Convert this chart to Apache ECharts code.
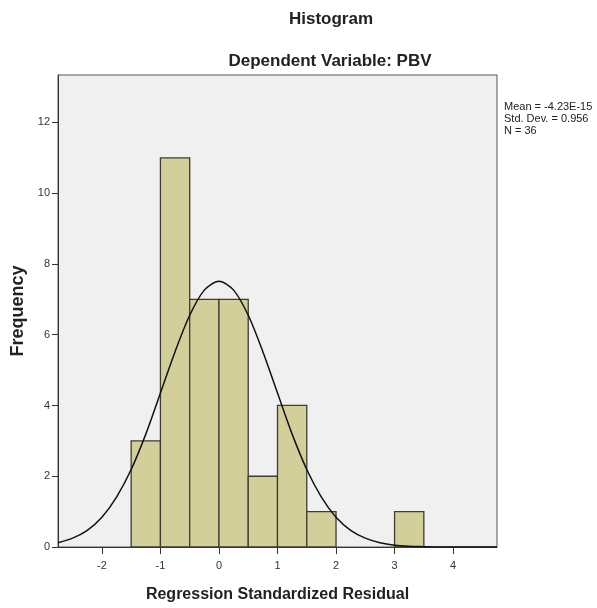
<!DOCTYPE html>
<html>
<head>
<meta charset="utf-8">
<script src="https://cdn.jsdelivr.net/npm/echarts@6/dist/echarts.min.js"></script>
<style>
  html, body { margin: 0; padding: 0; background: #fff; }
  #chart { width: 597px; height: 608px; }
</style>
</head>
<body>
<div id="chart"></div>
<script>
// histogram bins: [from, to] and counts
const binStart = [-1.5, -1.0, -0.5, 0.0, 0.5, 1.0, 1.5, 3.0]
const binEnd = [-1.0, -0.5, 0.0, 0.5, 1.0, 1.5, 2.0, 3.5]
const binCount = [3, 11, 7, 7, 2, 4, 1, 1]

// normal curve
const curveX = [-2.75, -2.5, -2.25, -2, -1.75, -1.5, -1.25, -1, -0.75, -0.5, -0.25, 0,
  0.25, 0.5, 0.75, 1, 1.25, 1.5, 1.75, 2, 2.25, 2.5, 2.75, 3, 3.25, 3.5, 3.75, 4, 4.25, 4.5, 4.75]
const curveY = [0.12, 0.25, 0.47, 0.84, 1.41, 2.19, 3.19, 4.35, 5.52, 6.55, 7.26, 7.51,
  7.26, 6.55, 5.52, 4.35, 3.19, 2.19, 1.41, 0.84, 0.47, 0.25, 0.12, 0.05, 0.02, 0.01, 0, 0, 0, 0, 0]

const xTicks = [-2, -1, 0, 1, 2, 3, 4]
const yTicks = [0, 2, 4, 6, 8, 10, 12]
const statLines = ['Mean = -4.23E-15', 'Std. Dev. = 0.956', 'N = 36']

const font = '"Liberation Sans", Arial, sans-serif'
const textColor = '#222'

const chart = echarts.init(document.getElementById('chart'), null, { renderer: 'canvas' })

const bars = binStart.map((s, i) => [s, binEnd[i], binCount[i]])
const curve = curveX.map((x, i) => [x, curveY[i]])

chart.setOption({
  animation: false,
  backgroundColor: '#fff',
  title: [
    {
      text: 'Histogram',
      left: 326, top: 6, textAlign: 'center',
      textStyle: { fontFamily: font, fontSize: 17, fontWeight: 'bold', color: textColor },
    },
    {
      text: 'Dependent Variable: PBV',
      left: 325, top: 48, textAlign: 'center',
      textStyle: { fontFamily: font, fontSize: 17, fontWeight: 'bold', color: textColor },
    },
  ],
  grid: {
    left: 58, right: 100, top: 75, bottom: 59,
    show: true, backgroundColor: '#f0f0f0', borderColor: '#555', borderWidth: 1,
  },
  xAxis: {
    type: 'value',
    min: -2.75, max: 4.75,
    name: 'Regression Standardized Residual',
    nameLocation: 'middle', nameGap: 40,
    nameTextStyle: { fontFamily: font, fontSize: 16, fontWeight: 'bold', color: textColor },
    axisLine: { show: true, onZero: false, lineStyle: { color: '#333' } },
    axisTick: { show: true, length: 7, customValues: xTicks, lineStyle: { color: '#333' } },
    axisLabel: { customValues: xTicks, fontFamily: font, fontSize: 11, color: '#333', margin: 13 },
    splitLine: { show: false },
  },
  yAxis: {
    type: 'value',
    min: 0, max: 13.34,
    name: 'Frequency',
    nameLocation: 'middle', nameGap: 28, nameRotate: 90,
    nameTextStyle: { fontFamily: font, fontSize: 18, fontWeight: 'bold', color: textColor },
    axisLine: { show: true, onZero: false, lineStyle: { color: '#333' } },
    axisTick: { show: true, length: 6, customValues: yTicks, lineStyle: { color: '#333' } },
    axisLabel: { customValues: yTicks, fontFamily: font, fontSize: 11, color: '#333', margin: 8 },
    splitLine: { show: false },
  },
  series: [
    {
      type: 'custom',
      data: bars,
      encode: { x: [0, 1], y: 2 },
      renderItem: (params, api) => {
        const p0 = api.coord([api.value(0), api.value(2)])
        const p1 = api.coord([api.value(1), 0])
        return {
          type: 'rect',
          shape: { x: p0[0], y: p0[1], width: p1[0] - p0[0], height: p1[1] - p0[1] },
          style: { fill: '#d3cf9b', stroke: '#3d3d32', lineWidth: 1.3 },
        }
      },
      z: 2,
    },
    {
      type: 'line',
      data: curve,
      smooth: 0.3,
      symbol: 'none',
      lineStyle: { color: '#111', width: 1.5 },
      z: 3,
    },
  ],
  graphic: [
    {
      type: 'text',
      left: 504, top: 101,
      style: {
        text: statLines.join('\n'),
        font: '11px ' + font,
        fill: '#222',
        lineHeight: 12,
      },
    },
  ],
})
</script>
</body>
</html>
